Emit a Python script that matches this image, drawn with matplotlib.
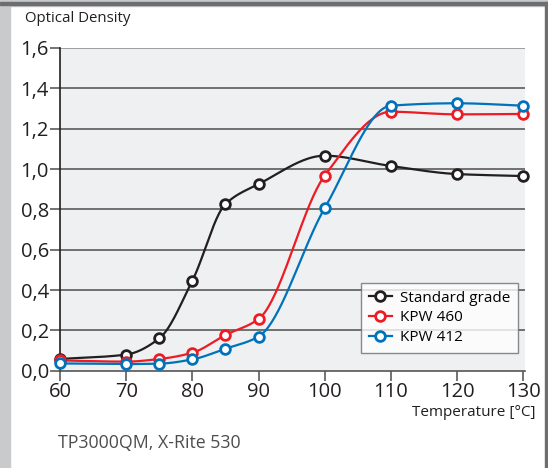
import numpy as np
import matplotlib
matplotlib.use("Agg")
import matplotlib.pyplot as plt
from matplotlib.patches import Rectangle

plt.rcParams['font.family'] = ['Open Sans', 'DejaVu Sans']

temps = [60, 70, 75, 80, 85, 90, 100, 110, 120, 130]
standard = [0.058, 0.080, 0.160, 0.446, 0.826, 0.925, 1.066, 1.015, 0.975, 0.965]
kpw460 = [0.051, 0.045, 0.058, 0.089, 0.177, 0.256, 0.967, 1.284, 1.271, 1.273]
kpw412 = [0.036, 0.033, 0.035, 0.056, 0.109, 0.169, 0.806, 1.314, 1.326, 1.314]
series_names = ["Standard grade", "KPW 460", "KPW 412"]
colors = ["#231f20", "#ed1c24", "#0072bc"]
yticks = [0.0, 0.2, 0.4, 0.6, 0.8, 1.0, 1.2, 1.4, 1.6]
ytick_labels = ["0,0", "0,2", "0,4", "0,6", "0,8", "1,0", "1,2", "1,4", "1,6"]
xticks = [60, 70, 80, 90, 100, 110, 120, 130]


def smooth(x, y):
    x = np.asarray(x, float)
    y = np.asarray(y, float)
    h = np.diff(x)
    d = np.diff(y) / h
    m = np.zeros_like(y)
    for i in range(1, len(x) - 1):
        if d[i - 1] * d[i] <= 0:
            m[i] = 0.0
        else:
            w1 = 2 * h[i] + h[i - 1]
            w2 = h[i] + 2 * h[i - 1]
            m[i] = (w1 + w2) / (w1 / d[i - 1] + w2 / d[i])
    m[0] = d[0]
    m[-1] = d[-1]
    xs, ys = [], []
    for i in range(len(x) - 1):
        t = np.linspace(0, 1, 40, endpoint=(i == len(x) - 2))
        h00 = 2 * t**3 - 3 * t**2 + 1
        h10 = t**3 - 2 * t**2 + t
        h01 = -2 * t**3 + 3 * t**2
        h11 = t**3 - t**2
        xs.append(x[i] + t * h[i])
        ys.append(h00 * y[i] + h10 * h[i] * m[i] + h01 * y[i + 1] + h11 * h[i] * m[i + 1])
    return np.concatenate(xs), np.concatenate(ys)


fig = plt.figure(figsize=(5.48, 4.68), dpi=100)
fig.patch.set_facecolor("white")
# frame
fig.add_artist(Rectangle((0, 0), 10 / 548, 1, transform=fig.transFigure, color="#c9cacc", zorder=0))
fig.add_artist(Rectangle((0, 1 - 6 / 468), 1, 6 / 468, transform=fig.transFigure, color="#c9cacc", zorder=0))
fig.add_artist(Rectangle((0, 1 - 5 / 468), 1, 3 / 468, transform=fig.transFigure, color="#6d6e70", zorder=0))
fig.add_artist(Rectangle((1 - 3 / 548, 0), 3 / 548, 1 - 2 / 468, transform=fig.transFigure, color="#6d6e70", zorder=0))

ax = fig.add_axes([60 / 548, (468 - 370.7) / 468, (524.5 - 60) / 548, (370.7 - 48) / 468])
ax.set_facecolor("#eef0f2")
ax.set_xlim(60, 130.2)
ax.set_ylim(0, 1.6)

for s in ["top", "right"]:
    ax.spines[s].set_visible(False)
ax.spines["left"].set_color("#231f20")
ax.spines["left"].set_linewidth(1.2)
ax.spines["bottom"].set_color("#555555")
ax.spines["bottom"].set_linewidth(1.2)

for v in yticks[1:]:
    ax.axhline(v, color="#888888" if v == 1.6 else "#4d4d4d", lw=1.1, zorder=1)

ax.set_yticks(yticks)
ax.set_yticklabels(ytick_labels)
ax.set_xticks(xticks)
ax.tick_params(axis="y", length=7, width=1.1, color="#4d4d4d", labelsize=14.5, pad=1, labelcolor="#231f20")
ax.tick_params(axis="x", length=7, width=1.1, color="#4d4d4d", labelsize=14.5, pad=1, labelcolor="#231f20")

for ydata, name, c in zip([standard, kpw460, kpw412], series_names, colors):
    xs, ys = smooth(temps, ydata)
    ax.plot(xs, ys, color=c, lw=1.6, zorder=3, clip_on=False)
    ax.plot(temps, ydata, linestyle="none", marker="o", ms=7, mfc="white", mec=c, mew=2,
            zorder=4, clip_on=False)

handles = [plt.Line2D([], [], color=c, lw=1.6, marker="o", ms=7, mfc="white", mec=c, mew=2)
           for c in colors]
leg = ax.legend(handles, series_names, loc="lower right", bbox_to_anchor=(0.985, 0.055),
                fontsize=11, frameon=True, fancybox=False, edgecolor="#6d6e70",
                handlelength=1.5, handletextpad=0.5, borderpad=0.5, labelspacing=0.32,
                borderaxespad=0)
leg.get_frame().set_linewidth(1.0)
leg.get_frame().set_facecolor("white")
leg.set_zorder(5)

fig.text(25 / 548, 1 - 18 / 468, "Optical Density", fontsize=10.8, color="#231f20", va="center", ha="left")
fig.text(536 / 548, 1 - 412 / 468, "Temperature [°C]", fontsize=11, color="#231f20", va="center", ha="right")
fig.text(58 / 548, 1 - 443 / 468, "TP3000QM, X-Rite 530", fontsize=12.8, color="#4d4d4d", va="center", ha="left")

fig.savefig("out.png", dpi=100)
